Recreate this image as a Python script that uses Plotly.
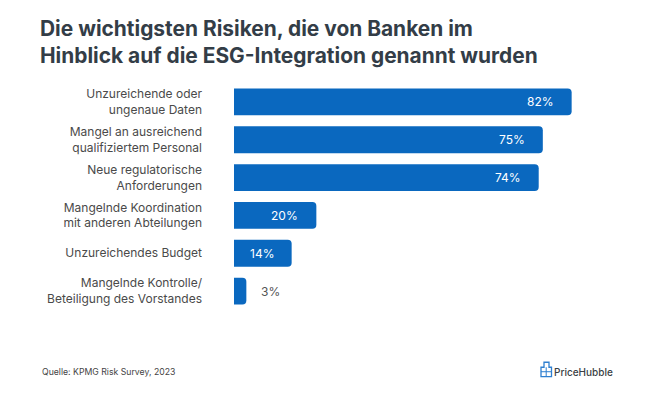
import plotly.graph_objects as go

categories = [
    "Unzureichende oder<br>ungenaue Daten",
    "Mangel an ausreichend<br>qualifiziertem Personal",
    "Neue regulatorische<br>Anforderungen",
    "Mangelnde Koordination<br>mit anderen Abteilungen",
    "Unzureichendes Budget",
    "Mangelnde Kontrolle/<br>Beteiligung des Vorstandes",
]
values = [82, 75, 74, 20, 14, 3]
value_labels = [f"{v}%" for v in values]

title_text = "Die wichtigsten Risiken, die von Banken im<br>Hinblick auf die ESG-Integration genannt wurden"
source_text = "Quelle: KPMG Risk Survey, 2023"
brand_text = "PriceHubble"

BAR = "#0A68BF"
FONT = "Inter"

# figure geometry (the page adds an 8px body margin, so figure px = reference px - 8)
W, H = 640, 403
L, T, B = 226, 74.5, 100.5
PW = 350
R = W - L - PW
PH = H - T - B


def px(xr):
    return (xr - 8 - L) / PW


def py(yr):
    return (H - B - (yr - 8)) / PH


fig = go.Figure()
fig.add_trace(go.Bar(
    x=values, y=categories, orientation="h",
    marker=dict(color=BAR, cornerradius=4, line=dict(width=0)),
    hoverinfo="skip",
))

for v, lab, cat in zip(values, value_labels, categories):
    if v >= 10:
        fig.add_annotation(x=v, y=cat, text=lab, xanchor="right", xshift=-16,
                           showarrow=False, font=dict(family=FONT, size=12, color="white"))
    else:
        fig.add_annotation(x=v, y=cat, text=lab, xanchor="left", xshift=13,
                           showarrow=False, font=dict(family=FONT, size=12, color="#555555"))

fig.update_layout(
    width=W, height=H,
    margin=dict(l=L, r=R, t=T, b=B, autoexpand=False),
    paper_bgcolor="white", plot_bgcolor="white",
    bargap=0.29,
    showlegend=False,
    title=dict(text=title_text, x=32 / W, xanchor="left", xref="container",
               y=1 - 28 / H, yanchor="top", yref="container",
               font=dict(family=FONT, size=20.9, color="#333D47", weight=700)),
    xaxis=dict(range=[0, 85], visible=False, fixedrange=True),
    yaxis=dict(autorange="reversed", showgrid=False, zeroline=False, showline=False,
               ticks="", ticklabelstandoff=31, automargin=False,
               tickfont=dict(family=FONT, size=12, color="#4A4A4A"), fixedrange=True),
)

fig.add_annotation(x=px(40), y=py(373), xref="paper", yref="paper", text=source_text,
                   xanchor="left", yanchor="middle", showarrow=False,
                   font=dict(family=FONT, size=8.7, color="#444444"))
fig.add_annotation(x=px(552), y=py(373), xref="paper", yref="paper", text=brand_text,
                   xanchor="left", yanchor="middle", showarrow=False,
                   font=dict(family=FONT, size=10, color="#3A3F45", weight=500))

# small logo icon (house outline with grid)
ICON = "#2E7FD0"
x0, x1 = px(541), px(551.5)
fig.add_shape(type="path", xref="paper", yref="paper",
              path=f"M {x0},{py(377.5)} L {x1},{py(377.5)} L {x1},{py(368)} "
                   f"L {px(549)},{py(368)} L {px(549)},{py(363)} L {px(544)},{py(363)} "
                   f"L {px(544)},{py(368)} L {x0},{py(368)} Z",
              line=dict(color=ICON, width=1.3), fillcolor="rgba(0,0,0,0)")
fig.add_shape(type="line", xref="paper", yref="paper",
              x0=x0, x1=x1, y0=py(372.5), y1=py(372.5), line=dict(color=ICON, width=1))
fig.add_shape(type="line", xref="paper", yref="paper",
              x0=px(546.2), x1=px(546.2), y0=py(377.5), y1=py(368), line=dict(color=ICON, width=1))

fig.write_html("out.html")
